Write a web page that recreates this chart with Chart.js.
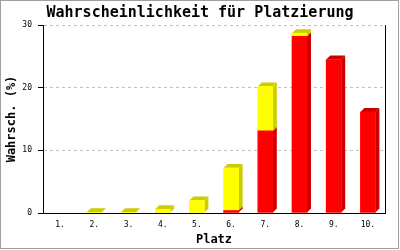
<!DOCTYPE html>
<html>
<head>
<meta charset="utf-8">
<script src="https://cdn.jsdelivr.net/npm/chart.js@4/dist/chart.umd.min.js"></script>
<style>
  html, body { margin: 0; padding: 0; background: #fff; }
  #wrap { width: 400px; height: 250px; }
</style>
</head>
<body>
<div id="wrap"><canvas id="c" width="400" height="250"></canvas></div>
<script>
const categories = ['1.', '2.', '3.', '4.', '5.', '6.', '7.', '8.', '9.', '10.'];
const redValues = [0, 0, 0, 0, 0, 0.4, 13.1, 28.2, 24.5, 16.1];
const yellowValues = [0, 0.1, 0.1, 0.6, 2.0, 6.8, 7.1, 0.5, 0, 0];
const yTicks = [0, 10, 20, 30];

const MONO = "'DejaVu Sans Mono', 'Liberation Mono', monospace";
const DEPTH = 4;

const bar3d = {
  id: 'bar3d',
  beforeDatasetsDraw(chart) {
    const ctx = chart.ctx;
    ctx.save();
    chart.data.datasets.forEach((ds, di) => {
      const meta = chart.getDatasetMeta(di);
      meta.data.forEach((el, i) => {
        if (!ds.data[i]) return;
        const p = el.getProps(['x', 'y', 'base', 'width'], true);
        const l = p.x - p.width / 2, r = p.x + p.width / 2;
        const t = Math.min(p.y, p.base), b = Math.max(p.y, p.base);
        ctx.fillStyle = ds.sideColor;
        ctx.beginPath();
        ctx.moveTo(r, b);
        ctx.lineTo(r + DEPTH, b - DEPTH);
        ctx.lineTo(r + DEPTH, t - DEPTH);
        ctx.lineTo(r, t);
        ctx.closePath();
        ctx.fill();
        ctx.beginPath();
        ctx.moveTo(l, t);
        ctx.lineTo(l + DEPTH, t - DEPTH);
        ctx.lineTo(r + DEPTH, t - DEPTH);
        ctx.lineTo(r, t);
        ctx.closePath();
        ctx.fill();
      });
    });
    ctx.restore();
  },
  afterDraw(chart) {
    const ctx = chart.ctx;
    const a = chart.chartArea;
    ctx.save();
    ctx.strokeStyle = '#000';
    ctx.lineWidth = 1;
    ctx.beginPath();
    ctx.moveTo(Math.round(a.right) + 0.5, a.top);
    ctx.lineTo(Math.round(a.right) + 0.5, a.bottom);
    ctx.stroke();
    ctx.strokeStyle = '#a0a0a0';
    ctx.strokeRect(0.5, 0.5, chart.width - 2, chart.height - 2);
    ctx.restore();
  }
};

const nz = arr => arr.map(v => (v === 0 ? null : v));

new Chart(document.getElementById('c'), {
  type: 'bar',
  data: {
    labels: categories,
    datasets: [
      { data: nz(redValues), backgroundColor: '#ff0000', sideColor: '#cc0000', borderWidth: 0, barThickness: 15 },
      { data: nz(yellowValues), backgroundColor: '#ffff00', sideColor: '#cccc00', borderWidth: 0, barThickness: 15 }
    ]
  },
  plugins: [bar3d],
  options: {
    responsive: false,
    animation: false,
    layout: { padding: 0 },
    plugins: {
      legend: { display: false },
      tooltip: { enabled: false },
      title: {
        display: true,
        text: 'Wahrscheinlichkeit für Platzierung',
        color: '#000',
        font: { family: MONO, size: 15, weight: 'bold', lineHeight: 1 },
        padding: { top: 6, bottom: 4 }
      }
    },
    scales: {
      x: {
        stacked: true,
        grid: { display: false, drawTicks: false },
        border: { display: true, color: '#000', width: 1 },
        ticks: { color: '#000', font: { family: MONO, size: 8 }, padding: 7, maxRotation: 0, autoSkip: false },
        title: { display: true, text: 'Platz', color: '#000', font: { family: MONO, size: 12, weight: 'bold' }, padding: { top: 0, bottom: 3 } },
        afterFit(s) { s.height = 37; }
      },
      y: {
        stacked: true,
        min: 0,
        max: 30,
        afterBuildTicks(s) { s.ticks = yTicks.map(v => ({ value: v })); },
        grid: {
          color: ctx => (ctx.tick && ctx.tick.value === 0) ? 'rgba(0,0,0,0)' : '#c0c0c0',
          tickColor: '#000',
          tickLength: 5,
          tickBorderDash: [],
          drawTicks: true
        },
        border: { display: true, color: '#000', width: 1, dash: [3, 3] },
        ticks: { color: '#000', font: { family: MONO, size: 8 }, padding: 6 },
        title: { display: true, text: 'Wahrsch. (%)', color: '#000', font: { family: MONO, size: 12, weight: 'bold' }, padding: { top: 5, bottom: 0 } },
        afterFit(s) { s.width = 43; }
      },
      yR: {
        position: 'right',
        min: 0,
        max: 30,
        grid: { display: false, drawTicks: false },
        border: { display: false },
        ticks: { display: false },
        afterFit(s) { s.width = 15; }
      }
    }
  }
});
</script>
</body>
</html>
